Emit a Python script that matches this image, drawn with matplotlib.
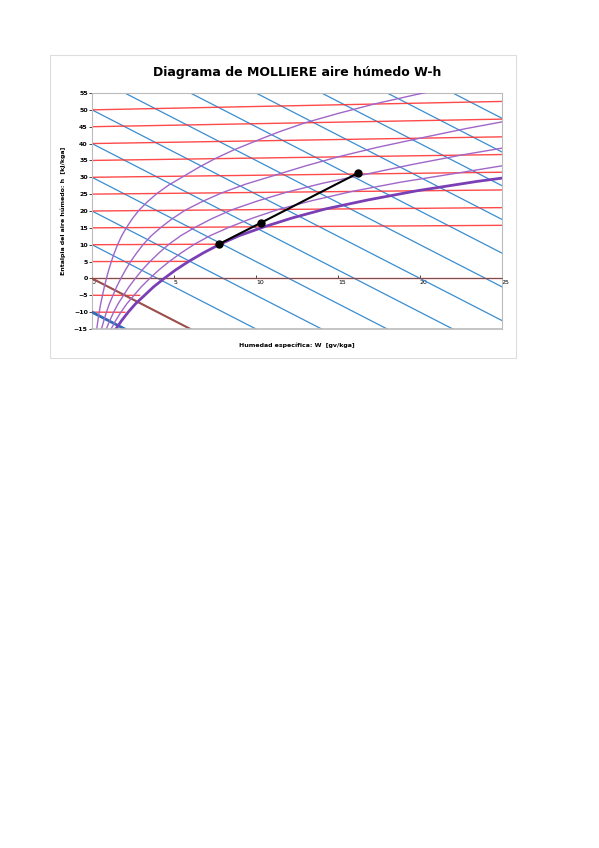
import numpy as np
import matplotlib
matplotlib.use('Agg')
import matplotlib.pyplot as plt
from matplotlib.patches import Rectangle

# saturation humidity (g/kg) at each temperature
temps = [-15, -12.5, -10, -7.5, -5, -2.5, 0, 2.5, 5, 7.5, 10, 12.5, 15, 17.5, 20,
         22.5, 25, 27.5, 30, 32.5, 35, 37.5, 40, 42.5, 45, 47.5, 50, 52.5, 55]
w_sat = [1.45, 1.8, 2.2, 2.65, 3.2, 3.75, 4.4, 5.1, 5.9, 6.8, 7.8, 9.0, 10.5, 12.2, 14.2,
         16.8, 19.8, 23.5, 28, 32.5, 37.5, 43.3, 50, 57, 65, 75, 86, 99, 113]
rh_levels = [0.2, 0.4, 0.6, 0.8, 1.0]

# isotherms (red): temperature and the W where each stops
iso_t = [-10, -5, 0, 5, 10, 15, 20, 25, 30, 35, 40, 45, 50]
iso_end = [2.0, 2.9, 25, 5.9, 8.0, 25, 25, 25, 25, 25, 25, 25, 25]
iso_slope = 0.002

# isenthalps (blue): intercept at W=0
enth_c = [-10, 0, 10, 20, 30, 40, 50, 60, 70, 80, 90, 100, 110]
enth_slope = -2.5

# process line
proc_w = [7.75, 10.3, 16.2]
proc_h = [10.2, 16.5, 31.2]

fig = plt.figure(figsize=(5.99, 8.48), dpi=100)
fig.patches.append(Rectangle((50/599, 1-358/848), 466/599, 303/848, transform=fig.transFigure,
                             fill=False, edgecolor='#dddddd', lw=0.8))
ax = fig.add_axes([92/599, 1-329/848, 410/599, 236/848])

t = np.array(temps)
ws = np.array(w_sat)

for c in enth_c:
    w = np.array([0, 25])
    ax.plot(w, c + enth_slope * w, color='#3a8dd0', lw=0.9, zorder=2)
ax.plot([0, 2], [-10, -10 + enth_slope * 2], color='#2a6fb8', lw=2, zorder=3)
ax.plot([0, 6], [0, 6 * enth_slope], color='#a0504a', lw=1.5, zorder=3)

for ti, we in zip(iso_t, iso_end):
    w = np.array([0, we])
    ax.plot(w, ti + iso_slope * ti * w, color='#ff2a2a', lw=1.0, alpha=0.85, zorder=2)

for rh in rh_levels:
    w = rh * ws
    y = t + iso_slope * t * w
    if rh == 1.0:
        ax.plot(w, y, color='#7b3fb5', lw=2, zorder=4)
    else:
        ax.plot(w, y, color='#a066c8', lw=1.0, zorder=4)

ax.plot(proc_w, proc_h, color='black', lw=1.5, marker='o', ms=5, zorder=5)

ax.set_xlim(0, 25)
ax.set_ylim(-15, 55)
ax.set_yticks(np.arange(-15, 56, 5))
ax.set_xticks(np.arange(0, 26, 5))
ax.tick_params(labelsize=4.5, length=2, width=0.5, pad=1)
ax.tick_params(axis='x', direction='in')
for lab in ax.get_xticklabels() + ax.get_yticklabels():
    lab.set_fontweight('bold')
ax.spines['bottom'].set_position(('data', 0))
ax.spines['bottom'].set_color('#555555')
ax.spines['bottom'].set_linewidth(0.6)
for s in ['top', 'right', 'left']:
    ax.spines[s].set_color('#bbbbbb')
    ax.spines[s].set_linewidth(0.8)
ax.axhline(-15, color='#bbbbbb', lw=1.2, zorder=6, clip_on=False)
for lab in ax.get_xticklabels():
    lab.set_horizontalalignment('left')

ax.set_title('Diagrama de MOLLIERE aire húmedo W-h', fontsize=9, fontweight='bold', pad=12)
fig.text((92+502)/2/599, 1-345/848, 'Humedad específica: W  [gv/kga]', ha='center', va='center',
         fontsize=4.5, fontweight='bold')
fig.text(63/599, 1-211/848, 'Entalpia del aire húmedo: h  [kJ/kga]', ha='center', va='center',
         rotation=90, fontsize=4.5, fontweight='bold')

fig.savefig('out.png', dpi=100)
